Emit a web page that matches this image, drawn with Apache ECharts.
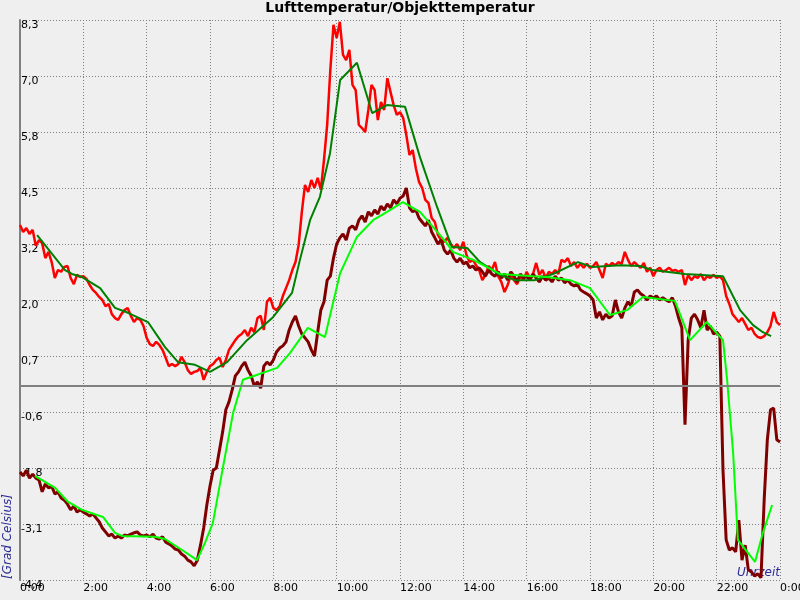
<!DOCTYPE html>
<html>
<head>
<meta charset="utf-8">
<script src="https://cdn.jsdelivr.net/npm/echarts@6/dist/echarts.min.js"></script>
<style>
html,body{margin:0;padding:0;background:#efefef;}
#chart{width:800px;height:600px;}
</style>
</head>
<body>
<div id="chart"></div>
<script>
// Sampling step of the raw measurement series (hours)
const sampleStepHours = 0.1;

// Lufttemperatur (raw), one value every 0.1 h from 0:00 to 24:00
const airTemp = [
 3.65,3.49,3.58,3.45,3.54,3.18,3.31,3.24,2.90,3.04,
 2.81,2.45,2.63,2.59,2.70,2.72,2.45,2.31,2.52,2.47,
 2.49,2.43,2.29,2.18,2.11,2.02,1.95,1.81,1.86,1.63,
 1.54,1.50,1.63,1.72,1.77,1.59,1.45,1.54,1.50,1.36,
 1.09,0.95,0.91,1.00,0.93,0.82,0.64,0.45,0.50,0.45,
 0.50,0.66,0.54,0.36,0.27,0.32,0.34,0.41,0.14,0.32,
 0.45,0.50,0.59,0.64,0.43,0.59,0.82,0.93,1.04,1.13,
 1.18,1.27,1.13,1.32,1.22,1.54,1.59,1.27,1.91,2.00,
 1.77,1.72,1.81,2.04,2.22,2.40,2.63,2.81,3.20,3.95,
 4.56,4.40,4.67,4.49,4.72,4.45,5.13,5.92,7.17,8.19,
 7.89,8.26,7.51,7.39,7.62,6.83,6.71,5.92,5.85,5.76,
 6.26,6.83,6.71,6.03,6.44,6.26,6.98,6.67,6.37,6.15,
 6.21,6.08,5.69,5.24,5.35,4.94,4.63,4.49,4.22,4.15,
 3.81,3.72,3.42,3.31,3.27,3.36,3.22,3.13,3.22,3.08,
 3.27,2.97,2.81,2.86,2.74,2.63,2.40,2.52,2.72,2.63,
 2.81,2.49,2.36,2.13,2.29,2.52,2.40,2.31,2.49,2.40,
 2.59,2.45,2.54,2.79,2.52,2.63,2.45,2.59,2.54,2.63,
 2.54,2.86,2.81,2.90,2.72,2.81,2.68,2.77,2.68,2.77,
 2.68,2.72,2.81,2.63,2.45,2.77,2.72,2.79,2.74,2.81,
 2.77,3.04,2.86,2.72,2.81,2.74,2.68,2.79,2.59,2.68,
 2.49,2.63,2.68,2.59,2.63,2.68,2.61,2.63,2.59,2.63,
 2.29,2.52,2.40,2.49,2.45,2.54,2.40,2.49,2.45,2.52,
 2.45,2.49,2.40,2.04,1.86,1.63,1.54,1.45,1.54,1.41,
 1.27,1.32,1.18,1.11,1.09,1.13,1.22,1.36,1.68,1.45,
 1.38
];

// Objekttemperatur (raw), one value every 0.1 h
const objectTemp = [
 -1.95,-2.04,-1.91,-2.09,-2.00,-2.09,-2.13,-2.40,-2.22,-2.31,
 -2.27,-2.45,-2.40,-2.54,-2.59,-2.68,-2.81,-2.72,-2.86,-2.81,
 -2.86,-2.90,-2.95,-2.90,-2.99,-3.08,-3.22,-3.31,-3.40,-3.36,
 -3.45,-3.40,-3.45,-3.38,-3.40,-3.36,-3.33,-3.31,-3.38,-3.40,
 -3.38,-3.42,-3.36,-3.45,-3.47,-3.42,-3.54,-3.58,-3.63,-3.70,
 -3.72,-3.81,-3.86,-3.95,-3.99,-4.08,-3.95,-3.61,-3.22,-2.70,
 -2.27,-1.91,-1.86,-1.45,-1.04,-0.54,-0.36,-0.09,0.23,0.32,
 0.45,0.54,0.36,0.23,0.00,0.09,-0.05,0.45,0.54,0.48,
 0.59,0.77,0.86,0.91,1.00,1.27,1.45,1.59,1.36,1.18,
 1.09,1.00,0.82,0.68,1.22,1.72,1.91,2.40,2.49,2.90,
 3.22,3.36,3.45,3.31,3.58,3.63,3.54,3.76,3.86,3.72,
 3.95,3.86,3.99,3.90,4.08,3.99,4.13,4.04,4.22,4.13,
 4.26,4.31,4.49,4.04,3.95,3.99,3.81,3.72,3.63,3.76,
 3.49,3.36,3.22,3.31,3.08,2.99,3.08,2.90,2.81,2.90,
 2.77,2.81,2.68,2.72,2.63,2.68,2.59,2.49,2.63,2.54,
 2.49,2.59,2.45,2.54,2.40,2.59,2.49,2.36,2.54,2.45,
 2.49,2.40,2.54,2.45,2.36,2.49,2.40,2.45,2.36,2.49,
 2.40,2.45,2.34,2.40,2.31,2.27,2.31,2.18,2.13,2.09,
 2.04,1.95,1.54,1.68,1.50,1.63,1.54,1.59,1.95,1.68,
 1.54,1.77,1.91,1.81,2.13,2.18,2.09,2.04,1.95,2.04,
 2.00,2.04,1.95,2.00,1.95,1.91,2.00,1.81,1.54,1.32,
 -0.88,1.04,1.54,1.63,1.50,1.32,1.72,1.27,1.36,1.18,
 1.22,1.13,-1.91,-3.49,-3.72,-3.67,-3.76,-3.04,-3.95,-3.61,
 -4.17,-4.22,-4.31,-4.26,-4.35,-2.59,-1.22,-0.54,-0.50,-1.22,
 -1.27
];

// Smoothed air temperature (dark green)
const airSmoothTime = [0.54,1.42,1.64,1.96,2.53,3.00,3.41,4.04,4.58,4.99,5.53,6.00,6.54,7.17,7.99,8.59,8.84,9.16,9.47,9.79,10.11,10.64,11.12,11.59,12.16,12.63,13.17,13.64,14.12,14.53,15.16,15.63,16.26,16.83,17.62,18.06,18.95,19.58,19.96,21.00,22.20,22.74,23.15,23.46,23.72];
const airSmoothTemp = [3.42,2.63,2.54,2.47,2.22,1.77,1.66,1.45,0.88,0.54,0.48,0.32,0.54,1.04,1.56,2.11,2.86,3.76,4.29,5.28,6.94,7.33,6.19,6.37,6.33,5.19,4.06,3.15,3.13,2.81,2.52,2.40,2.40,2.54,2.81,2.70,2.74,2.72,2.63,2.54,2.49,1.72,1.38,1.22,1.13];

// Smoothed object temperature (bright green)
const objSmoothTime = [0.47,1.11,1.52,1.96,2.62,3.00,3.22,4.26,4.58,5.12,5.59,5.84,6.09,6.41,6.73,7.04,8.12,8.53,9.09,9.63,10.11,10.64,11.15,11.59,12.09,12.63,13.04,13.48,13.67,14.31,15.16,16.20,16.64,17.37,18.00,18.63,19.17,19.67,20.68,21.16,21.69,22.20,22.33,22.52,22.67,23.21,23.46,23.75];
const objSmoothTemp = [-2.04,-2.31,-2.63,-2.81,-2.97,-3.33,-3.40,-3.42,-3.47,-3.72,-3.95,-3.56,-3.11,-1.84,-0.61,0.14,0.41,0.75,1.32,1.11,2.56,3.38,3.76,3.95,4.17,3.95,3.61,3.24,3.04,2.86,2.54,2.49,2.47,2.40,2.22,1.61,1.72,2.02,1.93,1.04,1.45,1.04,0.14,-1.52,-3.49,-3.99,-3.33,-2.70];

// Y tick labels (evenly spaced between min and max)
const yMin = -4.4, yMax = 8.3;
const yTickLabels = ["-4,4","-3,1","-1,8","-0,6","0,7","2,0","3,2","4,5","5,8","7,0","8,3"];

const raw = (arr) => arr.map((v, i) => [Number((i * sampleStepHours).toFixed(2)), v]);
const pairs = (t, v) => t.map((h, i) => [h, v[i]]);

const FONT = 'DejaVu Sans';
const chart = echarts.init(document.getElementById('chart'), null, {renderer: 'canvas'});
chart.setOption({
  backgroundColor: '#efefef',
  animation: false,
  title: {
    text: 'Lufttemperatur/Objekttemperatur',
    left: 'center', top: 0, padding: [1, 0, 0, 0],
    textStyle: {fontFamily: FONT, fontSize: 14, fontWeight: 'bold', color: '#000'}
  },
  grid: {left: 20, right: 20, top: 20, bottom: 20, containLabel: false, outerBoundsMode: 'none'},
  xAxis: {
    type: 'value', min: 0, max: 24, interval: 2,
    axisLine: {show: false}, axisTick: {show: false},
    axisLabel: {
      show: true, align: 'left', margin: 3, color: '#000',
      fontFamily: FONT, fontSize: 11, showMaxLabel: true, showMinLabel: true,
      formatter: (v) => (Math.round(v) % 24) + ':00'
    },
    splitLine: {show: true, lineStyle: {color: '#808080', type: [1, 2], width: 1}}
  },
  yAxis: [
    {type: 'value', min: yMin, max: yMax, show: false, splitLine: {show: false}},
    {
      type: 'value', min: 0, max: yTickLabels.length - 1, interval: 1, position: 'left',
      axisLine: {show: true, lineStyle: {color: '#808080', width: 2}},
      axisTick: {show: false},
      axisLabel: {
        inside: true, margin: 1, color: '#000', fontFamily: FONT, fontSize: 11,
        verticalAlign: 'top', align: 'left',
        formatter: (v) => yTickLabels[Math.round(v)]
      },
      splitLine: {show: true, lineStyle: {color: '#808080', type: [1, 2], width: 1}}
    }
  ],
  graphic: [
    {type: 'text', x: 2, y: 579, rotation: Math.PI / 2, z: 0,
     style: {text: '[Grad Celsius]', font: 'italic 12px "DejaVu Sans"', fill: '#2b2b96', textAlign: 'left', textVerticalAlign: 'top'}},
    {type: 'text', x: 780, y: 579, z: 0,
     style: {text: 'Uhrzeit', font: 'italic 12px "DejaVu Sans"', fill: '#2b2b96', textAlign: 'right', textVerticalAlign: 'bottom'}}
  ],
  series: [
    {
      name: 'Lufttemperatur', type: 'line', yAxisIndex: 0, showSymbol: false, symbol: 'none',
      data: raw(airTemp), lineStyle: {color: '#ff0000', width: 2.5}, itemStyle: {color: '#ff0000'},
      markLine: {
        silent: true, symbol: ['none', 'none'], label: {show: false}, animation: false,
        lineStyle: {color: '#808080', type: 'solid', width: 2},
        data: [{yAxis: 0}]
      }
    },
    {
      name: 'Objekttemperatur', type: 'line', yAxisIndex: 0, showSymbol: false, symbol: 'none',
      data: raw(objectTemp), lineStyle: {color: '#800000', width: 3}, itemStyle: {color: '#800000'}
    },
    {
      name: 'Luft geglättet', type: 'line', yAxisIndex: 0, showSymbol: false, symbol: 'none',
      data: pairs(airSmoothTime, airSmoothTemp), lineStyle: {color: '#008000', width: 2}, itemStyle: {color: '#008000'}
    },
    {
      name: 'Objekt geglättet', type: 'line', yAxisIndex: 0, showSymbol: false, symbol: 'none',
      data: pairs(objSmoothTime, objSmoothTemp), lineStyle: {color: '#00ff00', width: 2}, itemStyle: {color: '#00ff00'}
    }
  ]
});
</script>
</body>
</html>
